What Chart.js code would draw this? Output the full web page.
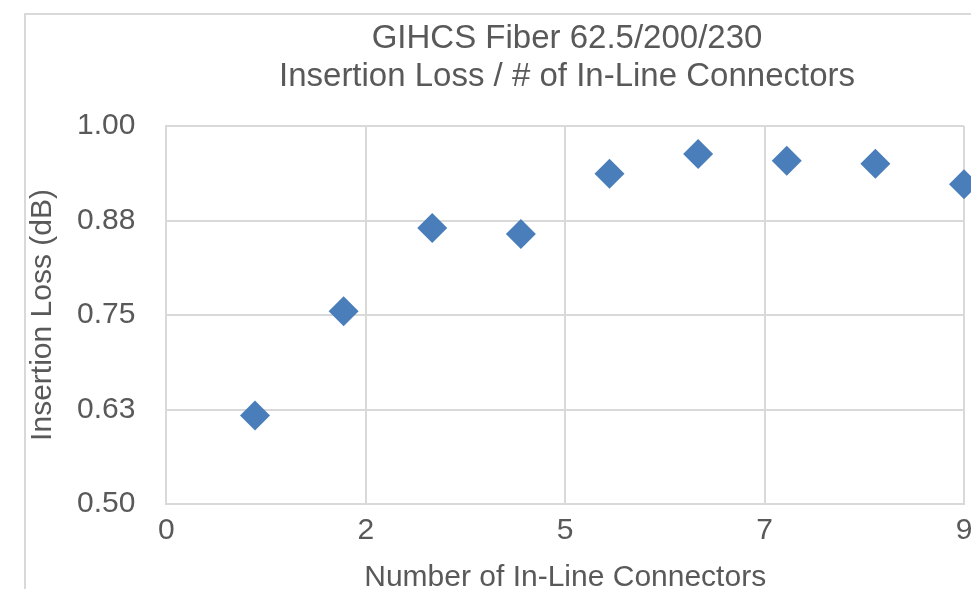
<!DOCTYPE html>
<html>
<head>
<meta charset="utf-8">
<script src="https://cdn.jsdelivr.net/npm/chart.js@4"></script>
<style>
    body { margin: 0; overflow: hidden; background: #ffffff; }
    #frame {
        position: absolute; left: 24px; top: 13px;
        width: 1400px; height: 800px;
        border: 2px solid #d9d9d9;
    }
    #myChart { position: absolute; left: 0; top: 0; }
</style>
</head>
<body>
<div id="frame"></div>
<canvas id="myChart" width="1109" height="601"></canvas>
<script>
// values
const connectors = [1, 2, 3, 4, 5, 6, 7, 8, 9];
const insertionLoss = [0.617, 0.755, 0.865, 0.857, 0.937, 0.963, 0.954, 0.950, 0.923];

// excel style tick labels (axis steps are 2.25 and 0.125)
const xTickLabels = ['0', '2', '5', '7', '9'];
const yTickLabels = ['0.50', '0.63', '0.75', '0.88', '1.00'];

const titleLines = ['GIHCS Fiber 62.5/200/230', 'Insertion Loss / # of In-Line Connectors'];

const textColor = '#595959';
const gridColor = '#d9d9d9';
const fontFamily = "'Liberation Sans', Arial, sans-serif";

const points = connectors.map(function(c, i) {
    return {x: c, y: insertionLoss[i]};
});

const myChart = new Chart(
    document.getElementById('myChart'), {
        type: 'scatter',
        data: {
            datasets: [{
                label: 'Insertion Loss',
                data: points,
                backgroundColor: '#4a7ebb',
                borderColor: '#4a7ebb',
                pointStyle: 'rectRot',
                pointRadius: 15,
                pointHoverRadius: 15,
                pointBorderWidth: 0,
                clip: false,
            }]
        },
        options: {
            responsive: false,
            animation: false,
            layout: {
                padding: {left: 25, right: 0, top: 0, bottom: 5}
            },
            plugins: {
                legend: {display: false},
                tooltip: {enabled: false},
                title: {
                    display: true,
                    text: titleLines,
                    color: textColor,
                    font: {family: fontFamily, size: 33, weight: 'normal', lineHeight: 38 / 33},
                    padding: {top: 20, bottom: 30},
                },
            },
            scales: {
                x: {
                    type: 'linear',
                    min: 0,
                    max: 9,
                    grid: {color: gridColor, lineWidth: 2, drawTicks: false},
                    border: {color: gridColor, width: 2},
                    ticks: {
                        stepSize: 2.25,
                        padding: 9,
                        color: textColor,
                        font: {family: fontFamily, size: 30},
                        callback: function(value, index) { return xTickLabels[index]; }
                    },
                    title: {
                        display: true,
                        text: 'Number of In-Line Connectors',
                        color: textColor,
                        font: {family: fontFamily, size: 30},
                        padding: {top: 2, bottom: 0},
                    }
                },
                y: {
                    min: 0.5,
                    max: 1.0,
                    grid: {color: gridColor, lineWidth: 2, drawTicks: false},
                    border: {color: gridColor, width: 2},
                    ticks: {
                        stepSize: 0.125,
                        padding: 31,
                        color: textColor,
                        font: {family: fontFamily, size: 30},
                        callback: function(value, index) { return yTickLabels[index]; }
                    },
                    title: {
                        display: true,
                        text: 'Insertion Loss (dB)',
                        color: textColor,
                        font: {family: fontFamily, size: 30},
                        padding: {top: 0, bottom: -15},
                    }
                },
                // empty space on the right of the plot, the chart is wider than the window
                spacer: {
                    type: 'linear',
                    position: 'right',
                    grid: {display: false},
                    border: {display: false},
                    ticks: {display: false},
                    afterFit: function(scale) { scale.width = 145; }
                }
            }
        }
    }
);
</script>
</body>
</html>
